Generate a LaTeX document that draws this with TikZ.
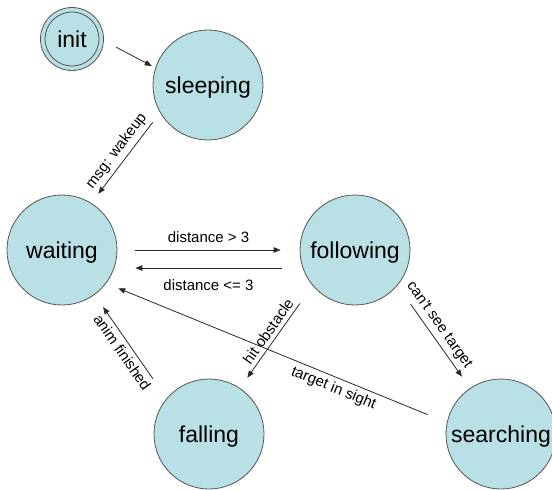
\documentclass[tikz,border=0pt]{standalone}
\usepackage{fontspec}
\setmainfont{Liberation Sans}
\usetikzlibrary{arrows.meta}
\definecolor{statefill}{RGB}{185,224,228}
\definecolor{stateline}{RGB}{85,85,85}
\definecolor{edgeline}{RGB}{40,40,40}
\begin{document}
\begin{tikzpicture}[x=1pt,y=-1pt,
  state/.style={circle, draw=stateline, line width=0.8pt, fill=statefill,
    minimum size=110pt, inner sep=0pt, text height=16pt, text depth=0pt,
    font=\fontsize{23}{26}\selectfont},
  trans/.style={draw=edgeline, line width=0.8pt, -{Triangle[length=7pt,width=5.5pt]}},
  lbl/.style={font=\fontsize{15}{17}\selectfont, inner sep=4pt}]
\useasboundingbox (0,0) rectangle (552,490);
\clip (0,0) rectangle (552,490);

\node[state, minimum size=63pt] (init) at (72,39) {init};
\draw[draw=stateline, line width=0.8pt] (init.center) circle[radius=27pt];
\node[state] (sleeping) at (208,85) {sleeping};
\node[state] (waiting) at (62,250) {waiting};
\node[state] (following) at (355,250) {following};
\node[state] (falling) at (209,434) {falling};
\node[state] (searching) at (501,434) {searching};

\draw[trans, shorten <=14pt, shorten >=4pt] (init.-3) -- (sleeping.162);
\draw[trans, shorten <=12pt, shorten >=11.6pt] (sleeping.210) --
  node[lbl, sloped, above]{msg: wakeup} (waiting.58);
\draw[trans, shorten <=18pt, shorten >=19pt] (waiting.0) --
  node[lbl, above=3pt]{distance > 3} (following.180);
\draw[trans, shorten <=21pt, shorten >=21pt] (following.-161) --
  node[lbl, below=7pt]{distance <= 3} (waiting.-19);
\draw[trans, shorten <=20.7pt, shorten >=13pt] (searching.168) --
  node[lbl, sloped, below, pos=0.32]{target in sight} (waiting.-37);
\draw[trans, shorten <=24pt, shorten >=15pt] (falling.140) --
  node[lbl, sloped, below]{anim finished} (waiting.-54);
\draw[trans, shorten <=22pt, shorten >=12.7pt] (following.220) --
  node[lbl, sloped, above]{hit obstacle} (falling.56);
\draw[trans, shorten <=22.6pt, shorten >=14pt] (following.-40) --
  node[lbl, sloped, above, pos=0.45]{can't see target} (searching.124);
\end{tikzpicture}
\end{document}
